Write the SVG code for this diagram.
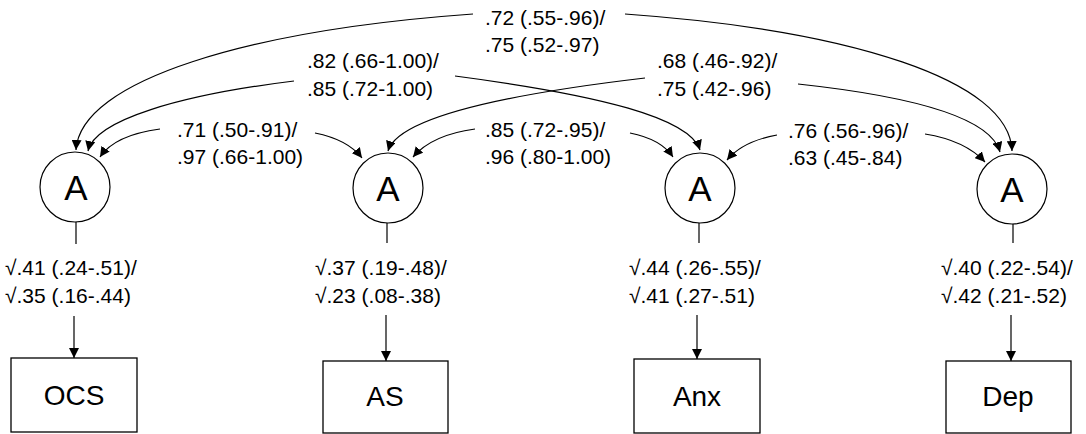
<svg xmlns="http://www.w3.org/2000/svg" width="1086" height="434" viewBox="0 0 1086 434">
<defs>
<marker id="ah" viewBox="0 0 10 10" refX="10" refY="5" markerWidth="10" markerHeight="10" markerUnits="userSpaceOnUse" orient="auto">
<path d="M0,0 L10,5 L0,10 z" fill="#000"/>
</marker>
<style>
.lbl{font-family:"Liberation Sans",Arial,sans-serif;font-size:21px;fill:#000}
.big{font-family:"Liberation Sans",Arial,sans-serif;font-size:35px;fill:#000;text-anchor:middle}
.box{font-family:"Liberation Sans",Arial,sans-serif;font-size:28px;fill:#000;text-anchor:middle}
.c{fill:#fff;stroke:#000;stroke-width:1.2}
.r{fill:#fff;stroke:#000;stroke-width:1.3}
.e{fill:none;stroke:#000;stroke-width:1.2}
.a{fill:none;stroke:#000;stroke-width:1.2;marker-end:url(#ah)}
</style>
</defs>
<rect width="1086" height="434" fill="#fff"/>
<g id="connectors">
<path class="a" d="M473,14 C250,30 80,80 76,150"/>
<path class="a" d="M625,14 C850,30 1010,80 1012,151"/>
<path class="a" d="M294,81 C180,95 95,120 88,151"/>
<path class="a" d="M455,76 C600,95 690,118 700,150"/>
<path class="a" d="M645,78 C500,95 398,118 388,151"/>
<path class="a" d="M798,84 C900,95 990,115 1000,152"/>
<path class="a" d="M160,129 C130,133 110,142 100,157"/>
<path class="a" d="M315,133 C335,137 352,145 362,158"/>
<path class="a" d="M475,129 C445,133 425,143 413,157"/>
<path class="a" d="M630,133 C650,137 665,145 673,157"/>
<path class="a" d="M777,135 C755,139 737,148 727,160"/>
<path class="a" d="M925,134 C950,138 972,148 985,162"/>
<line class="e" x1="76" y1="222" x2="76" y2="244"/>
<line class="e" x1="387" y1="223" x2="387" y2="243"/>
<line class="e" x1="699" y1="223" x2="699" y2="243"/>
<line class="e" x1="1013" y1="224" x2="1013" y2="243"/>
<line class="a" x1="74" y1="316" x2="74" y2="358"/>
<line class="a" x1="386" y1="315" x2="386" y2="361"/>
<line class="a" x1="697" y1="315" x2="697" y2="359"/>
<line class="a" x1="1011" y1="315" x2="1011" y2="361"/>
</g>
<g id="labels">
<text class="lbl" x="485" y="25">.72 (.55-.96)/</text>
<text class="lbl" x="485" y="52">.75 (.52-.97)</text>
<text class="lbl" x="307" y="68">.82 (.66-1.00)/</text>
<text class="lbl" x="307" y="96">.85 (.72-1.00)</text>
<text class="lbl" x="657" y="68">.68 (.46-.92)/</text>
<text class="lbl" x="657" y="96">.75 (.42-.96)</text>
<text class="lbl" x="177" y="137">.71 (.50-.91)/</text>
<text class="lbl" x="177" y="164">.97 (.66-1.00)</text>
<text class="lbl" x="485" y="137">.85 (.72-.95)/</text>
<text class="lbl" x="485" y="164">.96 (.80-1.00)</text>
<text class="lbl" x="788" y="138">.76 (.56-.96)/</text>
<text class="lbl" x="788" y="165">.63 (.45-.84)</text>
<text class="lbl" x="5" y="275">√.41 (.24-.51)/</text>
<text class="lbl" x="5" y="303">√.35 (.16-.44)</text>
<text class="lbl" x="315" y="275">√.37 (.19-.48)/</text>
<text class="lbl" x="315" y="303">√.23 (.08-.38)</text>
<text class="lbl" x="629" y="275">√.44 (.26-.55)/</text>
<text class="lbl" x="629" y="303">√.41 (.27-.51)</text>
<text class="lbl" x="941" y="275">√.40 (.22-.54)/</text>
<text class="lbl" x="941" y="303">√.42 (.21-.52)</text>
</g>
<g id="A1"><circle class="c" cx="75" cy="187" r="35"/><text class="big" x="76" y="200">A</text></g>
<g id="A2"><circle class="c" cx="388" cy="188" r="35"/><text class="big" x="388" y="201">A</text></g>
<g id="A3"><circle class="c" cx="700" cy="188" r="35"/><text class="big" x="700" y="201">A</text></g>
<g id="A4"><circle class="c" cx="1012" cy="189" r="35"/><text class="big" x="1012" y="202">A</text></g>
<g id="OCS"><rect class="r" x="11" y="358" width="126" height="74"/><text class="box" x="74" y="405">OCS</text></g>
<g id="AS"><rect class="r" x="323" y="361" width="125" height="72"/><text class="box" x="385" y="406">AS</text></g>
<g id="Anx"><rect class="r" x="634" y="359" width="126" height="74"/><text class="box" x="697" y="406">Anx</text></g>
<g id="Dep"><rect class="r" x="946" y="361" width="125" height="72"/><text class="box" x="1008" y="406">Dep</text></g>
</svg>
